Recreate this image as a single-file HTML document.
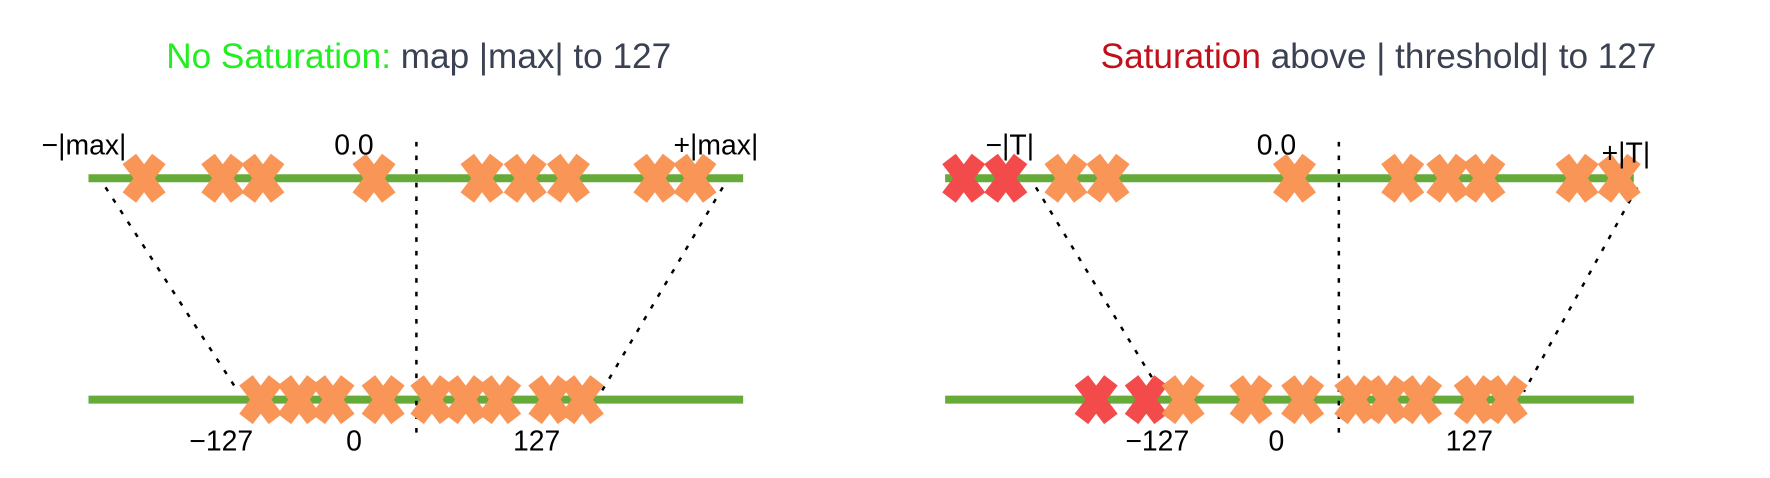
<!DOCTYPE html>
<html><head><meta charset="utf-8"><style>
html,body{margin:0;padding:0;background:#fff;}
svg{display:block;}
text{font-family:"Liberation Sans Narrow","Liberation Sans",sans-serif;}
</style></head><body>
<svg id="chart" width="1770" height="478" viewBox="0 0 1560 421" preserveAspectRatio="none" xmlns="http://www.w3.org/2000/svg">
<text x="369" y="60" text-anchor="middle" font-size="31"><tspan fill="#22ee22">No Saturation:</tspan><tspan fill="#3a4252"> map |max| to 127</tspan></text>
<text x="1215" y="60" text-anchor="middle" font-size="31"><tspan fill="#c0101a">Saturation</tspan><tspan fill="#3a4252"> above | threshold| to 127</tspan></text>
<g id="layer"></g>
</svg>
<script>
// Left panel (no saturation): float values in units of |max|, quantized values in int8 units
const leftTopValues = [-0.875, -0.62, -0.49, -0.13, 0.22, 0.36, 0.50, 0.78, 0.91];
const leftBottomValues = [-104, -78, -55, -21, 12, 35, 58, 92, 114];
// Right panel (saturation): float values in units of |T|, quantized values
const rightTopValues = [-1.24, -1.10, -0.90, -0.76, -0.14, 0.22, 0.37, 0.49, 0.80, 0.94];
const rightTopSaturated = [true, true, false, false, false, false, false, false, false, false];
const rightBottomValues = [-163, -129, -104, -58, -23, 13, 34, 57, 94, 115];
const rightBottomSaturated = [true, true, false, false, false, false, false, false, false, false];
const leftTopLabels = ["\u2212|max|", "0.0", "+|max|"];
const rightTopLabels = ["\u2212|T|", "0.0", "+|T|"];
const bottomTickLabels = ["\u2212127", "0", "127"];

const NS = "http://www.w3.org/2000/svg";
const layer = document.getElementById("layer");
function mk(tag, attrs, parent) {
  const e = document.createElementNS(NS, tag);
  for (const k in attrs) e.setAttribute(k, attrs[k]);
  (parent || layer).appendChild(e);
  return e;
}
function panel(cfg) {
  const g = mk("g", {});
  
  
  const topX = v => cfg.center + v * cfg.topHalf;
  const botX = v => cfg.center + v * cfg.botUnit;
  const yT = 157, yB = 352;
  let l = mk("line", {x1: cfg.x0, x2: cfg.x1, y1: yT, y2: yT, stroke: "#66ab3a", "stroke-width": 7}, g);
  
  
  l = mk("line", {x1: cfg.x0, x2: cfg.x1, y1: yB, y2: yB, stroke: "#66ab3a", "stroke-width": 7}, g);
  
  
  const dash = {stroke: "#000", "stroke-width": 2.2, "stroke-dasharray": "4 8", fill: "none"};
  l = mk("line", Object.assign({x1: cfg.center + 2, x2: cfg.center + 2, y1: 125, y2: 382}, dash), g);
  
  
  l = mk("line", Object.assign({x1: topX(-1), y1: 165, x2: botX(-127) + 10, y2: 345}, dash), g);
  
  
  l = mk("line", Object.assign({x1: topX(1), y1: 165, x2: botX(127), y2: 345}, dash), g);
  
  
  function cross(x, y, red) {
    const c = mk("path", {d: `M${x-13},${y-17}L${x+13},${y+17}M${x-13},${y+17}L${x+13},${y-17}`,
      stroke: red ? "#f34a4c" : "#fa9558", "stroke-width": 15, fill: "none"}, g);
    
    
  }
  cfg.top.forEach((v, i) => cross(topX(v), yT, cfg.topSat && cfg.topSat[i]));
  cfg.bot.forEach((v, i) => cross(botX(v), yB, cfg.botSat && cfg.botSat[i]));
  cfg.topLabels.forEach((t, i) => {
    const tx = mk("text", {x: cfg.topLabelX[i], y: cfg.topLabelY[i], "font-size": 25, "text-anchor": "middle", fill: "#000"}, g);
    tx.textContent = t;
    
    
  });
  bottomTickLabels.forEach((t, i) => {
    const tx = mk("text", {x: cfg.botLabelX[i], y: 397, "font-size": 25, "text-anchor": "middle", fill: "#000"}, g);
    tx.textContent = t;
    
    
  });
}
panel({name: "no-saturation-panel", x0: 78, x1: 655, center: 365, topHalf: 272, botUnit: 1.3,
  top: leftTopValues, bot: leftBottomValues, topLabels: leftTopLabels,
  topLabelX: [74, 312, 631], topLabelY: [136, 136, 136], botLabelX: [195, 312, 473]});
panel({name: "saturation-panel", x0: 833, x1: 1440, center: 1178, topHalf: 265, botUnit: 1.3,
  top: rightTopValues, bot: rightBottomValues, topSat: rightTopSaturated, botSat: rightBottomSaturated,
  topLabels: rightTopLabels,
  topLabelX: [890, 1125, 1433], topLabelY: [136, 136, 143], botLabelX: [1020, 1125, 1295]});
</script>
</body></html>
